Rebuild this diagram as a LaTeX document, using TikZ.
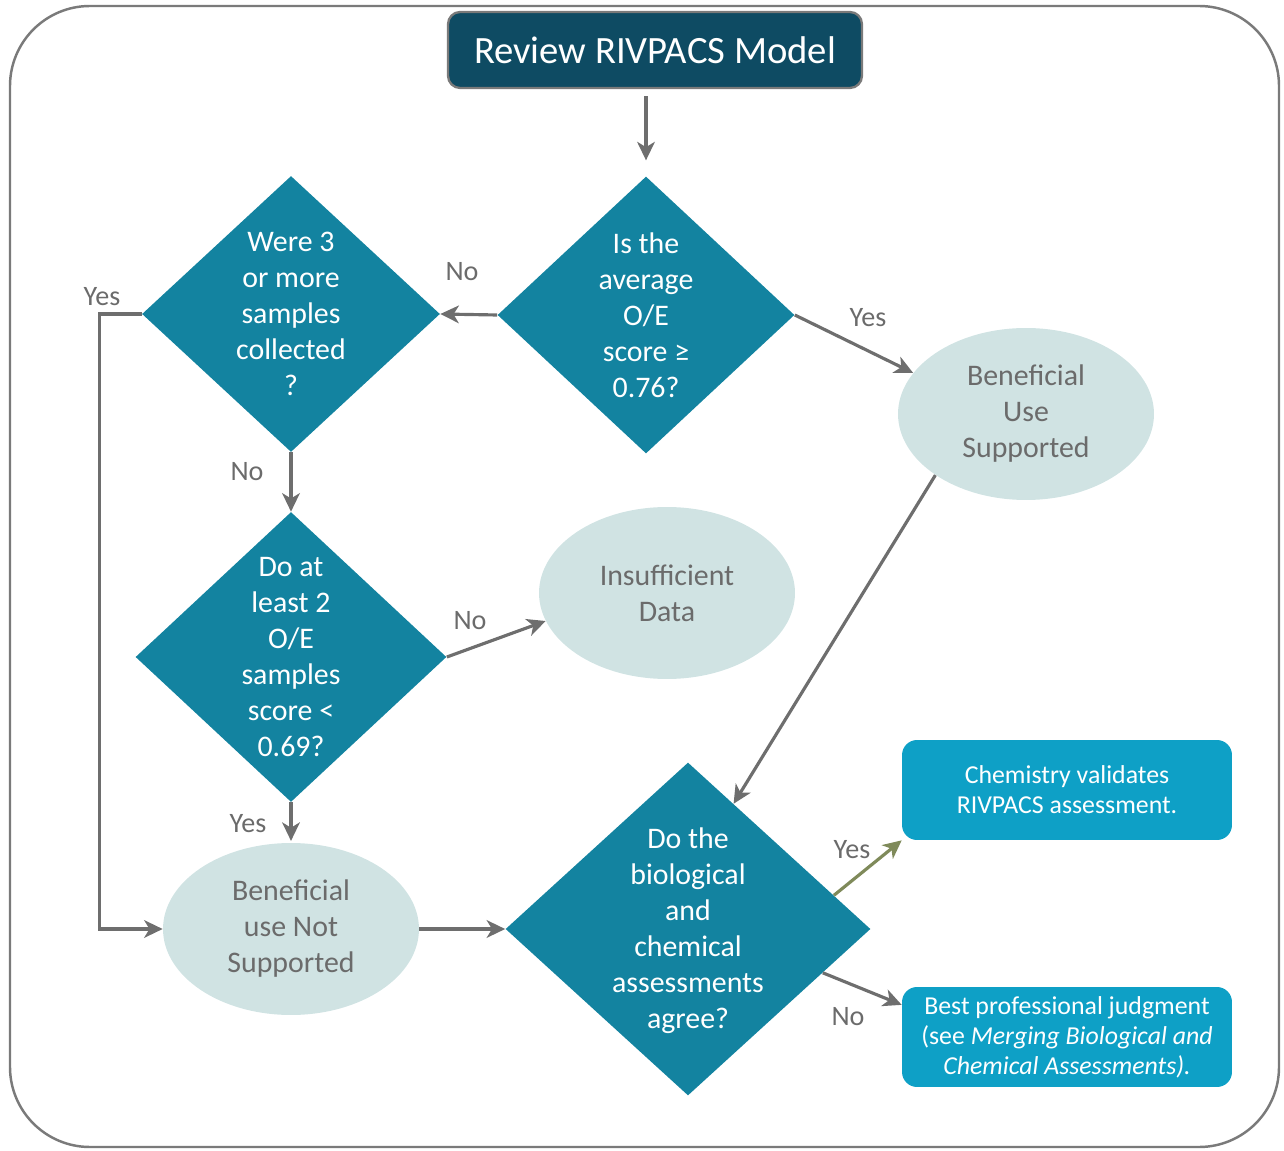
\documentclass[tikz,border=0pt]{standalone}
\usepackage{fontspec}
\setmainfont{Carlito}
\usepackage{tikz}
\usetikzlibrary{arrows.meta, positioning, shapes.geometric}
\usepackage{xcolor}
\definecolor{titleblue}{HTML}{0E4B63}
\definecolor{teal}{HTML}{1383A0}
\definecolor{paleteal}{HTML}{D0E3E3}
\definecolor{brightblue}{HTML}{0EA0C6}
\definecolor{flowgray}{HTML}{6E6E6E}
\definecolor{textgray}{HTML}{6B6B6B}
\definecolor{framegray}{HTML}{7A7A7A}
\definecolor{olivegreen}{HTML}{7F8A5A}
\tikzset{%
	startbox/.style={
		rectangle,
		rounded corners=0.24cm,
		draw=framegray,
		line width=1.3pt,
		fill=titleblue,
		text=white,
		minimum width=8.28cm,
		minimum height=1.52cm,
		font=\fontsize{22}{26}\selectfont
	},
	decision/.style={
		diamond,
		fill=teal,
		inner sep=0pt
	},
	dtext/.style={
		text=white,
		align=center,
		inner sep=0pt,
		font=\fontsize{17}{20.5}\selectfont
	},
	outcome/.style={
		ellipse,
		fill=paleteal,
		text=textgray,
		align=center,
		inner sep=0pt,
		minimum width=5.12cm,
		minimum height=3.44cm,
		font=\fontsize{17}{20.5}\selectfont
	},
	result/.style={
		rectangle,
		rounded corners=0.3cm,
		fill=brightblue,
		text=white,
		align=center,
		minimum width=6.6cm,
		minimum height=2.0cm,
		font=\fontsize{14.7}{17}\selectfont
	},
	answer/.style={
		text=textgray,
		inner sep=0pt,
		font=\fontsize{16}{18}\selectfont
	},
	flow/.style={
		draw=flowgray,
		line width=1.8pt,
		-{Stealth[length=10.5pt, width=10pt, inset=3pt]}
	},
}
\begin{document}
\begin{tikzpicture}[x=0.02cm, y=-0.02cm]
	% Fix the page size
	\useasboundingbox (0,0) rectangle (1284,1151);
	% Draw the outer frame
	\draw[draw=framegray, line width=1.4pt, rounded corners=1.6cm] (10,6) rectangle (1279,1147);

	% Draw the title box
	\node[startbox] (review) at (655,50) {Review RIVPACS Model};

	% Draw the decisions
	\node[decision, minimum width=5.94cm, minimum height=5.54cm] (average) at (646,315) {};
	\node[dtext] (averagetext) at (average) {Is the\\average\\O/E\\score ≥\\0.76?};
	\node[decision, minimum width=5.96cm, minimum height=5.52cm] (more3) at (291,314) {};
	\node[dtext] (more3text) at (more3) {Were 3\\or more\\samples\\collected\\?};
	\node[decision, minimum width=6.22cm, minimum height=5.8cm] (atleast2) at (291,657) {};
	\node[dtext] (atleast2text) at (atleast2) {Do at\\least 2\\O/E\\samples\\score <\\0.69?};
	\node[decision, minimum width=7.3cm, minimum height=6.66cm] (agree) at (688,929) {};
	\node[dtext] (agreetext) at (688,931) {Do the\\biological\\and\\chemical\\assessments\\agree?};

	% Draw the outcomes
	\node[outcome] (supported) at (1026,414) {Beneficial\\Use\\Supported};
	\node[outcome] (insufficient) at (667,593) {Insufficient\\Data};
	\node[outcome] (notsupported) at (291,929) {Beneficial\\use Not\\Supported};

	% Draw the result boxes
	\node[result] (chem) at (1067,790) {Chemistry validates\\RIVPACS assessment.};
	\node[result] (best) at (1067,1037) {Best professional judgment\\(see \textit{Merging Biological and}\\\textit{Chemical Assessments).}};

	% Draw the arrows
	\draw[flow, shorten <=4pt, shorten >=9pt] (average.north |- review.south) -- (average.north);
	\draw[flow] (average.west) -- (more3.east);
	\draw[flow] (average.east) -- (supported.160);
	\draw[flow] (more3.south) -- (atleast2.north);
	\draw[flow] (atleast2.east) -- (insufficient.193);
	\draw[flow, shorten >=1pt] (atleast2.south) -- (notsupported.north);
	\draw[flow] (more3.west) -- ++(-42,0) |- (notsupported.west);
	\draw[flow] (notsupported.east) -- (agree.west);
	\draw[flow] (supported.214) -- (agree.70);
	\draw[flow, draw=olivegreen] (agree.13) -- (chem.south west);
	\draw[flow] (agree.-18) -- (best.169);

	% Yes and No labels
	\node[answer] (noleft) at (462,272) {No};
	\node[answer] (yesright) at (868,318) {Yes};
	\node[answer] (yesloop) at (102,297) {Yes};
	\node[answer] (nodown) at (247,472) {No};
	\node[answer] (nodata) at (470,621) {No};
	\node[answer] (yesdown) at (248,824) {Yes};
	\node[answer] (yeschem) at (852,850) {Yes};
	\node[answer] (nobest) at (848,1017) {No};
\end{tikzpicture}
\end{document}
